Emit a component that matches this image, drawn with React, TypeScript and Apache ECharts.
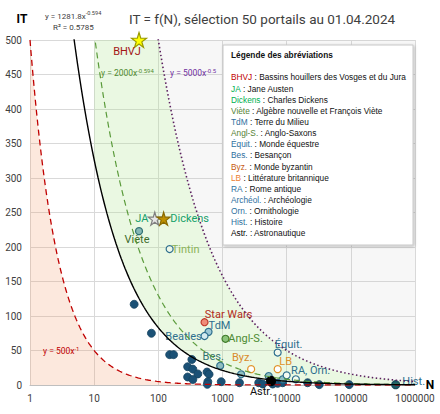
import React, { useEffect, useRef } from "react";
import * as echarts from "echarts";

// ---- data ----
const darkN = [42, 78, 150, 173, 333, 286, 345, 413, 286, 345, 574, 618, 591, 580, 955, 1840, 3665, 4235, 6050, 7240, 8670, 21200, 32200, 94300];
const darkIT = [117, 75, 44, 44, 37, 26.5, 23, 16, 11.6, 8, 18.8, 15.5, 4.8, 1, 4.8, 3.3, 3.3, 1.4, 1.4, 2.5, 3.3, 3.3, 0.5, 0.5];

const lightN = [1950, 5250, 8700];
const lightIT = [15.5, 13, 8.3];

const labelledNames = ["BHVJ", "JA", "Dickens", "Viète", "Tintin", "Star Wars", "TdM", "Beatles", "Angl-S.", "Équit.", "Bes.", "Byz.", "LB", "RA", "Orn.", "Astr.", "Hist."];
const labelledN = [50, 88, 121, 50, 150, 525, 606, 525, 1114, 7240, 921, 2795, 7240, 10000, 13900, 5716, 500000];
const labelledIT = [500, 241, 241, 223, 197, 91, 77, 71, 67, 47, 28, 23, 23, 14, 8.3, 5.8, 0.5];

const xTicks = ["1", "10", "100", "1000", "10000", "100000", "1000000"];

const legendAbbr = ["BHVJ", "JA", "Dickens", "Viète", "TdM", "Angl-S.", "Équit.", "Bes.", "Byz.", "LB", "RA", "Archéol.", "Orn.", "Hist.", "Astr."];
const legendFull = ["Bassins houillers des Vosges et du Jura", "Jane Austen", "Charles Dickens", "Algèbre nouvelle et François Viète", "Terre du Milieu", "Anglo-Saxons", "Monde équestre", "Besançon", "Monde byzantin", "Littérature britannique", "Rome antique", "Archéologie", "Ornithologie", "Histoire", "Astronautique"];

// fitted / reference curves shown on the chart
const trendA = 1281.8, trendB = -0.594;
const greenA = 2000, greenB = -0.594;
const purpleA = 5000, purpleB = -0.5;
const redA = 500, redB = -1;

// ---- styles ----
const STAR = "path://M50,0 L61,35 L98,35 L68,57 L79,91 L50,70 L21,91 L32,57 L2,35 L39,35 Z";
const TEAL = "#2e6f8e";
const pointStyle: Record<string, any> = {
  "BHVJ": { symbol: STAR, size: 15, fill: "#ffff00", stroke: "#9a9a00", lc: "#a31515", off: [-12, 11], text: "BHVJ" },
  "JA": { symbol: STAR, size: 13, fill: "#e6e6e6", stroke: "#7f7f7f", lc: "#17a06a", off: [-13, 0], text: "JA" },
  "Dickens": { symbol: STAR, size: 13, fill: "#bf9000", stroke: "#8a6a00", lc: "#17a06a", off: [26, 0], text: "Dickens" },
  "Viète": { symbol: "circle", size: 7, fill: "#86b8b5", stroke: "#2f6f73", lc: "#3d6b2a", off: [-2, 8], text: "Viète" },
  "Tintin": { symbol: "circle", size: 7, fill: "#eef8e8", stroke: TEAL, lc: "#8ab35a", off: [16, 0], text: "Tintin" },
  "Star Wars": { symbol: "circle", size: 7, fill: "#f08c78", stroke: "#c0392b", lc: "#b22a1a", off: [24, -8], text: "Star Wars" },
  "TdM": { symbol: "circle", size: 7, fill: "#9cc9d6", stroke: TEAL, lc: TEAL, off: [11, -6], text: "TdM" },
  "Beatles": { symbol: "circle", size: 7, fill: "#d5ecf0", stroke: TEAL, lc: TEAL, off: [-21, 0], text: "Beatles" },
  "Angl-S.": { symbol: "circle", size: 7, fill: "#8cc57a", stroke: "#3f7a2a", lc: "#4d8a32", off: [20, 0], text: "Angl-S." },
  "Équit.": { symbol: "circle", size: 7, fill: "#f2f9ee", stroke: TEAL, lc: TEAL, off: [11, -8], text: "Équit." },
  "Bes.": { symbol: "circle", size: 7, fill: "#8fbdc0", stroke: TEAL, lc: "#2f7070", off: [-7, -9], text: "Bes." },
  "Byz.": { symbol: "circle", size: 7, fill: "#ffffff", stroke: "#e0932a", lc: "#d98a2b", off: [-9, -12], text: "Byz." },
  "LB": { symbol: "circle", size: 7, fill: "#ffffff", stroke: "#e0932a", lc: "#e0902a", off: [8, -8], text: "LB" },
  "RA": { symbol: "circle", size: 7, fill: "#f5fbf2", stroke: TEAL, lc: TEAL, off: [24, -5], text: "RA, Orn." },
  "Orn.": { symbol: "circle", size: 7, fill: "#f5fbf2", stroke: TEAL, lc: TEAL, off: [0, 0], text: "" },
  "Astr.": { symbol: "circle", size: 9, fill: "#000000", stroke: "#000000", lc: "#111111", off: [-10, 11], text: "Astr." },
  "Hist.": { symbol: "circle", size: 8, fill: "#1f5f6a", stroke: "#1a4d5a", lc: TEAL, off: [18, -3], text: "Hist." },
};
const legendColors: Record<string, string> = {
  "BHVJ": "#c00000", "JA": "#00b050", "Dickens": "#00b050", "Viète": "#548235", "TdM": "#2e6f9e",
  "Angl-S.": "#548235", "Équit.": "#2e6f9e", "Bes.": "#2e6f9e", "Byz.": "#c55a11", "LB": "#ed7d31",
  "RA": "#2e6f9e", "Archéol.": "#2e6f9e", "Orn.": "#2e6f9e", "Hist.": "#2e6f9e", "Astr.": "#000000",
};

const FONT = "Roboto, 'Noto Sans', sans-serif";
const LFONT = "'Liberation Sans', Arial, sans-serif";
const LSCALE = 0.875;

function powerCurve(a: number, b: number, e0: number, e1: number) {
  const pts: number[][] = [];
  for (let i = 0; i <= 300; i++) {
    const e = e0 + ((e1 - e0) * i) / 300;
    const x = Math.pow(10, e);
    pts.push([x, a * Math.pow(x, b)]);
  }
  return pts;
}

export default function App() {
  const ref = useRef<HTMLDivElement>(null);
  useEffect(() => {
    if (!ref.current) return;
    const chart = echarts.init(ref.current, undefined, { renderer: "svg" });

    const cap = (v: number) => Math.min(500, v);
    const red = powerCurve(redA, redB, 0, 6).map(([x, y]) => [x, cap(y)]);
    const trend = powerCurve(trendA, trendB, 0, 6);
    const green = powerCurve(greenA, greenB, 0, 6);
    const purple = powerCurve(purpleA, purpleB, 0, 6);

    // region polygons (in data coordinates)
    const pinkPoly = [...red, [1e6, 0], [1, 0]];
    const gUpper = powerCurve(purpleA, purpleB, 1, 6).map(([x, y]) => [x, cap(y)]);
    const gLower = powerCurve(trendA, trendB, 1, 6).map(([x, y]) => [x, cap(y)]).reverse();
    const greenPoly = [...gUpper, ...gLower];
    const grCurve = powerCurve(purpleA, purpleB, 2, 6).map(([x, y]) => [x, cap(y)]);
    const grayPoly = [...grCurve, [1e6, 500], [100, 500]];

    const region = (poly: number[][], fill: string) => ({
      type: "custom",
      silent: true,
      data: [[10, 100]],
      renderItem: (_p: any, api: any) => ({
        type: "polygon",
        shape: { points: poly.map((pt) => api.coord(pt)) },
        style: { fill },
      }),
    });

    const labelled = labelledNames.map((nm, i) => {
      const s = pointStyle[nm];
      return {
        name: nm,
        value: [labelledN[i], labelledIT[i]],
        symbol: s.symbol,
        symbolSize: s.size,
        itemStyle: { color: s.fill, borderColor: s.stroke, borderWidth: 1.2, opacity: 1 },
        label: {
          show: s.text !== "",
          formatter: s.text,
          position: "inside",
          offset: s.off,
          color: s.lc,
          fontSize: 11,
          fontFamily: FONT,
        },
      };
    });

    const sup = (main: string, exp: string, color: string, x: number, y: number, size = 8.5) => ({
      type: "text",
      x,
      y,
      z: 100,
      style: {
        text: `{n|${main}}{s|${exp}}`,
        verticalAlign: "middle",
        rich: {
          n: { fontSize: size, fill: color, fontFamily: FONT, verticalAlign: "bottom" },
          s: { fontSize: size * 0.7, fill: color, fontFamily: FONT, verticalAlign: "bottom", padding: [0, 0, 4, 0] },
        },
      },
    });

    const legendTexts = legendAbbr.map((a, i) => ({
      type: "text",
      x: 231,
      y: 77.3 + i * 11.14,
      scaleX: LSCALE,
      z: 101,
      style: {
        text: `{a|${a}}{b| : ${legendFull[i]}}`,
        verticalAlign: "middle",
        rich: {
          a: { fill: legendColors[a], fontSize: 9.5, fontFamily: LFONT },
          b: { fill: "#111", fontSize: 9.5, fontFamily: LFONT },
        },
      },
    }));

    chart.setOption({
      animation: false,
      backgroundColor: "#ffffff",
      grid: { left: 30, right: 25, top: 40, bottom: 29, containLabel: false },
      xAxis: {
        type: "log",
        logBase: 10,
        min: 1,
        max: 1000000,
        axisLine: { show: true, lineStyle: { color: "#bfbfbf" } },
        axisTick: { show: false },
        splitLine: { show: true, lineStyle: { color: "#d9d9d9" } },
        axisLabel: {
          fontSize: 10,
          color: "#404040",
          fontFamily: FONT,
          margin: 8,
          formatter: (v: number) => xTicks[Math.round(Math.log10(v))] ?? String(v),
        },
      },
      yAxis: {
        type: "value",
        min: 0,
        max: 500,
        interval: 50,
        axisLine: { show: true, lineStyle: { color: "#d9d9d9" } },
        axisTick: { show: false },
        splitLine: { show: true, lineStyle: { color: "#d9d9d9" } },
        axisLabel: { fontSize: 10, color: "#404040", fontFamily: FONT, margin: 8 },
      },
      series: [
        region(pinkPoly, "rgba(240,150,100,0.22)"),
        region(greenPoly, "rgba(180,230,150,0.28)"),
        region(grayPoly, "rgba(200,200,200,0.14)"),
        { type: "line", data: red, silent: true, showSymbol: false, symbol: "none", lineStyle: { color: "#c00000", width: 1.3, type: [6, 4] } },
        { type: "line", data: purple, silent: true, showSymbol: false, symbol: "none", lineStyle: { color: "#5b1f5f", width: 1.6, type: [1.5, 2.5] } },
        { type: "line", data: green, silent: true, showSymbol: false, symbol: "none", lineStyle: { color: "#5a9a3a", width: 1.2, type: [6, 4] } },
        { type: "line", data: trend, silent: true, showSymbol: false, symbol: "none", lineStyle: { color: "#000000", width: 1.4 } },
        {
          type: "scatter", silent: true, symbolSize: 8,
          itemStyle: { color: "#1b5176", borderColor: "#16445f", borderWidth: 0.8, opacity: 1 },
          data: darkN.map((n, i) => [n, darkIT[i]]),
        },
        {
          type: "scatter", silent: true, symbolSize: 7,
          itemStyle: { color: "#8fc0c0", borderColor: TEAL, borderWidth: 1.2, opacity: 1 },
          data: lightN.map((n, i) => [n, lightIT[i]]),
        },
        { type: "scatter", silent: true, data: labelled, itemStyle: { opacity: 1 } },
      ],
      graphic: [
        { type: "text", x: 22, y: 19, z: 100, style: { text: "IT", fontSize: 12, fontWeight: "bold", fill: "#000", fontFamily: FONT, align: "center", verticalAlign: "middle" } },
        { type: "text", x: 430, y: 385, z: 100, style: { text: "N", fontSize: 12, fontWeight: "bold", fill: "#000", fontFamily: FONT, align: "center", verticalAlign: "middle" } },
        { type: "text", x: 262, y: 19, z: 100, style: { text: "IT = f(N), sélection 50 portails au 01.04.2024", fontSize: 13.5, fill: "#404040", fontFamily: FONT, align: "center", verticalAlign: "middle" } },
        sup("y = 1281.8x", "-0.594", "#404040", 45, 15, 8),
        {
          type: "text", x: 53, y: 27, z: 100,
          style: { text: "R² = 0.5785", fontSize: 8, fill: "#404040", fontFamily: FONT, verticalAlign: "middle" },
        },
        sup("y = 2000x", "-0.594", "#4e8a2e", 101, 72),
        sup("y = 5000x", "-0.5", "#7030a0", 170, 72),
        sup("y = 500x", "-1", "#c00000", 43, 350),
        {
          type: "rect", z: 100,
          shape: { x: 223, y: 45, width: 190, height: 200 },
          style: { fill: "#ffffff", stroke: "#c8c8c8", lineWidth: 1, shadowBlur: 3, shadowColor: "rgba(0,0,0,0.25)", shadowOffsetX: 1, shadowOffsetY: 1 },
        },
        {
          type: "text", x: 231, y: 55, z: 101, scaleX: LSCALE,
          style: { text: "Légende des abréviations", fontSize: 9.5, fontWeight: "bold", fill: "#111", fontFamily: LFONT, verticalAlign: "middle" },
        },
        ...legendTexts,
      ],
    });
    return () => chart.dispose();
  }, []);
  return <div ref={ref} style={{ position: "absolute", left: 0, top: 0, width: 440, height: 414 }} />;
}
